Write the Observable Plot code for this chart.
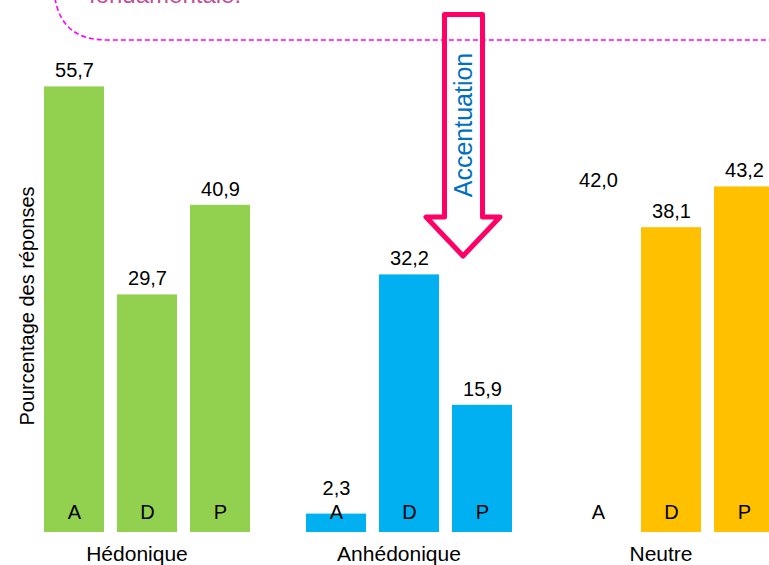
<!DOCTYPE html>
<html>
<head>
<meta charset="utf-8">
<script src="https://cdn.jsdelivr.net/npm/d3@7"></script>
<script src="https://cdn.jsdelivr.net/npm/@observablehq/plot@0.6"></script>
<style>
  html, body { margin: 0; padding: 0; background: white; overflow: hidden; }
  #wrap { position: relative; width: 769px; height: 565px; overflow: hidden; }
  #wrap svg { max-width: none !important; }
  #overlay { position: absolute; left: 0; top: 0; pointer-events: none; }
</style>
</head>
<body>
<div id="wrap"></div>
<script>
// ---- data ----
const groups = ["Hédonique", "Anhédonique", "Neutre"];
const letters = ["A", "D", "P"];
const hedonique = [55.7, 29.7, 40.9];
const anhedonique = [2.3, 32.2, 15.9];
const neutre = [42.0, 38.1, 43.2];
const yLabel = "Pourcentage des réponses";
const arrowText = "Accentuation";
const topText = "fondamentale.";

const series = [hedonique, anhedonique, neutre];
const data = groups.flatMap((g, i) =>
  letters.map((l, j) => ({group: g, letter: l, value: series[i][j]}))
);
// The "Neutre / A" bar is not drawn in the reference (only its value label is)
const barData = data.filter(d => !(d.group === "Neutre" && d.letter === "A"));
const fmt = v => v.toFixed(1).replace(".", ",");

const font = "'Liberation Sans', Arial, sans-serif";

const chart = Plot.plot({
  width: 800,
  height: 565,
  marginLeft: 38,
  marginRight: 22,
  marginTop: 80,
  marginBottom: 33,
  style: {fontFamily: font, fontSize: "20px", background: "white", overflow: "visible", maxWidth: "none"},
  fx: {domain: groups, paddingInner: 0.18, paddingOuter: 0, label: null, axis: null},
  x: {domain: letters, paddingInner: 0.18, paddingOuter: 0.05, axis: null},
  y: {domain: [0, 56.5], axis: null},
  color: {domain: groups, range: ["#92D050", "#00B0F0", "#FFC000"]},
  marks: [
    Plot.barY(barData, {fx: "group", x: "letter", y: "value", fill: "group"}),
    // value labels: kept clear of the in-bar letters for very short bars
    Plot.text(data, {fx: "group", x: "letter", y: d => Math.max(d.value, 3.5), text: d => fmt(d.value), dy: -16, fontSize: 20, fill: "black"}),
    Plot.text(data, {fx: "group", x: "letter", y: () => 0, text: "letter", dy: -20, fontSize: 20, fill: "black"}),
    Plot.axisFx({domain: groups, anchor: "bottom", tickSize: 0, tickPadding: 14, fontSize: 21, dx: -10, label: null})
  ]
});
chart.style.maxWidth = "none";
document.getElementById("wrap").appendChild(chart);

// y-axis title (no ticks in the reference)
const wrap = d3.select("#wrap");
const ov = wrap.append("svg")
  .attr("id", "overlay")
  .attr("width", 769).attr("height", 565)
  .style("font-family", font);

ov.append("text")
  .attr("transform", "translate(34,306) rotate(-90)")
  .attr("text-anchor", "middle")
  .attr("font-size", 20)
  .attr("fill", "black")
  .text(yLabel);

// dashed rounded box edge at top
ov.append("path")
  .attr("d", "M55,-2 C60,28 78,40 108,40 L775,40")
  .attr("fill", "none")
  .attr("stroke", "#FF00FF")
  .attr("stroke-width", 1.6)
  .attr("stroke-dasharray", "5,3");

ov.append("text")
  .attr("x", 89).attr("y", 3)
  .attr("font-size", 24)
  .attr("fill", "#C0509A")
  .text(topText);

// arrow
ov.append("path")
  .attr("d", "M444.5,14.5 L482.5,14.5 L482.5,217 L500,217 L463,256 L426,217 L444.5,217 Z")
  .attr("fill", "none")
  .attr("stroke", "#FF0066")
  .attr("stroke-width", 5)
  .attr("stroke-linejoin", "round");

ov.append("text")
  .attr("transform", "translate(472,125) rotate(-90)")
  .attr("text-anchor", "middle")
  .attr("font-size", 25)
  .attr("fill", "#0070C0")
  .text(arrowText);
</script>
</body>
</html>
